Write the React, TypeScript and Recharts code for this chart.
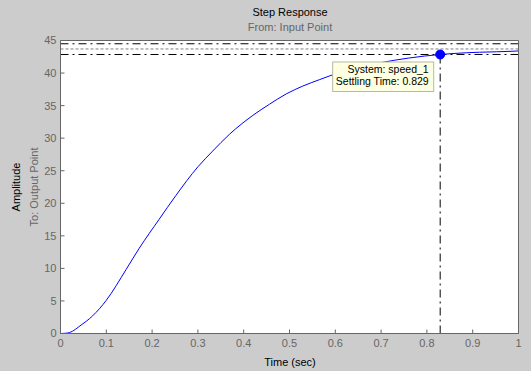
import * as React from 'react';
import {
  LineChart,
  Line,
  XAxis,
  YAxis,
  CartesianGrid,
  ReferenceLine,
  ReferenceDot
} from 'recharts';

// step response
const time = [
  0, 0.01, 0.02, 0.045, 0.07, 0.1, 0.143, 0.172, 0.215, 0.252, 0.3, 0.332, 0.369,
  0.42, 0.456, 0.493, 0.529, 0.566, 0.587, 0.65, 0.7, 0.76, 0.829, 0.857, 0.915,
  0.988, 1.0
];
const amplitude = [
  0, 0.03, 0.15, 1.3, 2.7, 5.1, 9.8, 13.1, 17.5, 21.2, 25.6, 28.0, 30.6, 33.5,
  35.2, 36.8, 38.0, 39.0, 39.55, 40.8, 41.6, 42.3, 42.85, 43.0, 43.2, 43.35, 43.4
];

const xTicks = [0, 0.1, 0.2, 0.3, 0.4, 0.5, 0.6, 0.7, 0.8, 0.9, 1];
const yTicks = [0, 5, 10, 15, 20, 25, 30, 35, 40, 45];

const finalValue = 43.7;
const upperBound = 44.5;
const lowerBound = 42.85;
const settlingTime = 0.829;
const settlingValue = 42.85;

const tipLines = ['System: speed_1', 'Settling Time: 0.829'];

const data = time.map((t, i) => ({ t, y: amplitude[i] }));

const GRAY = '#666666';
const FONT = "Arial, 'Liberation Sans', sans-serif";
const DASH_DOT = '8 4 2 4';

function DataTip(props: { cx?: number; cy?: number }): React.ReactElement {
  const cx = props.cx ?? 0;
  const cy = props.cy ?? 0;
  return (
    <g>
      <rect
        x={cx - 107.5}
        y={cy + 7.5}
        width={101}
        height={29.5}
        fill="#ffffe1"
        stroke="#b8b8a8"
      />
      <text x={cx - 11.5} y={cy + 18.5} textAnchor="end" fontSize={10.5} fontFamily={FONT} fill="#000">
        {tipLines[0]}
      </text>
      <text x={cx - 11.5} y={cy + 31} textAnchor="end" fontSize={10.5} fontFamily={FONT} fill="#000">
        {tipLines[1]}
      </text>
    </g>
  );
}

export default function App(): React.ReactElement {
  return (
    <div
      style={{
        position: 'absolute',
        left: 0,
        top: 0,
        width: 531,
        height: 371,
        background: '#cccccc',
        fontFamily: FONT
      }}
    >
      <LineChart
        width={531}
        height={371}
        data={data}
        margin={{ top: 39.5, right: 11.5, bottom: 0, left: 0 }}
      >
        <CartesianGrid fill="#ffffff" horizontal={false} vertical={false} stroke="none" />
        <XAxis
          dataKey="t"
          type="number"
          domain={[0, 1]}
          ticks={xTicks}
          interval={0}
          height={37.5}
          axisLine={{ stroke: GRAY }}
          tickLine={{ stroke: GRAY }}
          tickSize={-4}
          tickMargin={10}
          tick={{ fill: GRAY, fontSize: 11, fontFamily: FONT }}
          tickFormatter={(v: number): string => `${v}`}
        />
        <XAxis
          xAxisId="top"
          orientation="top"
          dataKey="t"
          type="number"
          domain={[0, 1]}
          ticks={xTicks}
          interval={0}
          height={1}
          axisLine={{ stroke: GRAY }}
          tickLine={{ stroke: GRAY }}
          tickSize={-4}
          tick={false}
        />
        <YAxis
          type="number"
          domain={[0, 45]}
          ticks={yTicks}
          interval={0}
          width={60.5}
          axisLine={{ stroke: GRAY }}
          tickLine={{ stroke: GRAY }}
          tickSize={-4}
          tickMargin={8}
          tick={{ fill: GRAY, fontSize: 11, fontFamily: FONT }}
        />
        <YAxis
          yAxisId="right"
          orientation="right"
          type="number"
          domain={[0, 45]}
          ticks={yTicks}
          interval={0}
          width={1}
          axisLine={{ stroke: GRAY }}
          tickLine={{ stroke: GRAY }}
          tickSize={-4}
          tick={false}
        />
        <ReferenceLine y={upperBound} stroke="#000" strokeDasharray={DASH_DOT} />
        <ReferenceLine y={finalValue} stroke="#808080" strokeDasharray="3 2" />
        <ReferenceLine y={lowerBound} stroke="#000" strokeDasharray={DASH_DOT} />
        <ReferenceLine
          segment={[
            { x: settlingTime, y: 0 },
            { x: settlingTime, y: settlingValue }
          ]}
          stroke="#000"
          strokeDasharray={DASH_DOT}
        />
        <Line
          type="monotone"
          dataKey="y"
          stroke="#0000ff"
          strokeWidth={1}
          dot={false}
          isAnimationActive={false}
        />
        <ReferenceDot x={settlingTime} y={settlingValue} r={4.5} fill="#0000ff" stroke="#0000ff" />
        <ReferenceDot x={settlingTime} y={settlingValue} shape={(p: any) => <DataTip {...p} />} />
      </LineChart>
      <svg
        width={531}
        height={371}
        style={{ position: 'absolute', left: 0, top: 0, pointerEvents: 'none' }}
        fontFamily={FONT}
        fontSize={11}
      >
        <text x={290} y={16} textAnchor="middle" fill="#000">Step Response</text>
        <text x={290} y={30.5} textAnchor="middle" fill={GRAY}>From: Input Point</text>
        <text x={290} y={366} textAnchor="middle" fill="#000">Time (sec)</text>
        <text x={19.5} y={187} textAnchor="middle" fill="#000" transform="rotate(-90 19.5 187)">
          Amplitude
        </text>
        <text x={37.5} y={187} textAnchor="middle" fill={GRAY} transform="rotate(-90 37.5 187)">
          To: Output Point
        </text>
      </svg>
    </div>
  );
}
